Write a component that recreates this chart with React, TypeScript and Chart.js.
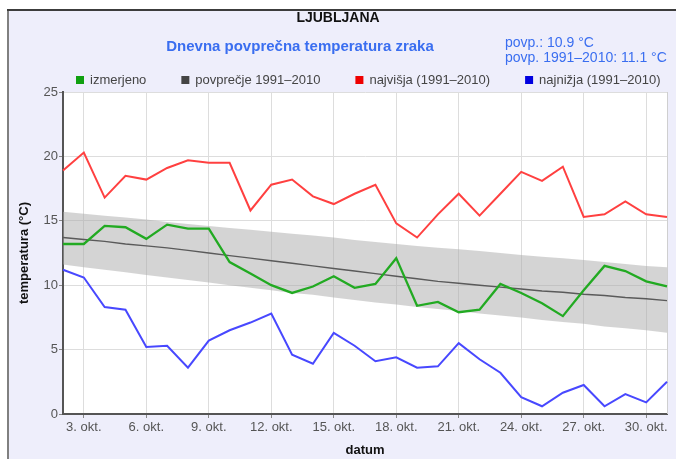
import { useEffect, useRef } from 'react';
import { Chart, registerables } from 'chart.js';

Chart.register(...registerables);

const FONT = '"Liberation Sans", Arial, sans-serif';

const dayNumbers = [2, 3, 4, 5, 6, 7, 8, 9, 10, 11, 12, 13, 14, 15, 16, 17, 18, 19, 20, 21, 22, 23, 24, 25, 26, 27, 28, 29, 30, 31];
const categories = dayNumbers.map((d) => `${d}. okt.`);
const labeledDays = [3, 6, 9, 12, 15, 18, 21, 24, 27, 30];

const measured = [13.2, 13.2, 14.6, 14.5, 13.6, 14.7, 14.4, 14.4, 11.8, 10.9, 10.0, 9.4, 9.9, 10.7, 9.8, 10.1, 12.1, 8.4, 8.7, 7.9, 8.1, 10.1, 9.4, 8.6, 7.6, 9.6, 11.5, 11.1, 10.3, 9.9];
const average = [13.7, 13.55, 13.4, 13.2, 13.05, 12.9, 12.7, 12.5, 12.3, 12.1, 11.9, 11.7, 11.5, 11.3, 11.1, 10.9, 10.7, 10.5, 10.3, 10.15, 10.0, 9.85, 9.7, 9.55, 9.45, 9.3, 9.2, 9.05, 8.95, 8.8];
const highest = [18.9, 20.3, 16.8, 18.5, 18.2, 19.1, 19.7, 19.5, 19.5, 15.8, 17.8, 18.2, 16.9, 16.3, 17.1, 17.8, 14.8, 13.7, 15.5, 17.1, 15.4, 17.1, 18.8, 18.1, 19.2, 15.3, 15.5, 16.5, 15.5, 15.3];
const lowest = [11.2, 10.6, 8.3, 8.1, 5.2, 5.3, 3.6, 5.7, 6.5, 7.1, 7.8, 4.6, 3.9, 6.3, 5.3, 4.1, 4.4, 3.6, 3.7, 5.5, 4.25, 3.2, 1.3, 0.6, 1.65, 2.25, 0.6, 1.55, 0.9, 2.5];
const bandUpper = [15.7, 15.55, 15.4, 15.25, 15.1, 14.9, 14.75, 14.6, 14.45, 14.3, 14.15, 14.0, 13.85, 13.7, 13.5, 13.35, 13.2, 13.05, 12.9, 12.8, 12.65, 12.5, 12.35, 12.2, 12.1, 11.95, 11.8, 11.65, 11.5, 11.4];
const bandLower = [11.6, 11.4, 11.2, 11.0, 10.8, 10.6, 10.4, 10.2, 10.0, 9.8, 9.6, 9.4, 9.25, 9.05, 8.85, 8.65, 8.5, 8.3, 8.15, 8.0, 7.8, 7.65, 7.5, 7.3, 7.15, 7.0, 6.8, 6.65, 6.5, 6.3];

const yTicks = [0, 5, 10, 15, 20, 25];

const titleText = 'LJUBLJANA';
const subtitleText = 'Dnevna povprečna temperatura zraka';
const statLines = ['povp.: 10.9 °C', 'povp. 1991–2010: 11.1 °C'];

const isLabeled = (index: number) => labeledDays.includes(dayNumbers[index]);

const framePlugin = {
  id: 'frameAndTexts',
  beforeDraw(chart: any) {
    const { ctx, chartArea: a, width, height } = chart;
    ctx.save();
    ctx.fillStyle = '#ffffff';
    ctx.fillRect(0, 0, width, height);
    ctx.fillStyle = '#eeeefb';
    ctx.fillRect(8, 10, width - 8, height - 10);
    ctx.lineWidth = 2;
    ctx.strokeStyle = '#808080';
    ctx.beginPath();
    ctx.moveTo(8, 10);
    ctx.lineTo(8, height);
    ctx.stroke();
    ctx.strokeStyle = '#3c3c3c';
    ctx.beginPath();
    ctx.moveTo(7, 10);
    ctx.lineTo(width, 10);
    ctx.stroke();
    ctx.fillStyle = '#ffffff';
    ctx.fillRect(a.left, a.top, a.right - a.left, a.bottom - a.top);
    ctx.restore();
  },
  beforeDatasetsDraw(chart: any) {
    const { ctx, chartArea: a } = chart;
    ctx.save();
    ctx.strokeStyle = '#cfcfcf';
    ctx.lineWidth = 1;
    ctx.beginPath();
    ctx.moveTo(a.right + 0.5, a.top);
    ctx.lineTo(a.right + 0.5, a.bottom);
    ctx.stroke();
    ctx.restore();
  },
  afterDraw(chart: any) {
    const { ctx } = chart;
    ctx.save();
    ctx.textBaseline = 'middle';
    ctx.textAlign = 'center';
    ctx.fillStyle = '#111111';
    ctx.font = `bold 14px ${FONT}`;
    ctx.fillText(titleText, 338, 18);
    ctx.fillStyle = '#3a6ef0';
    ctx.font = `bold 15px ${FONT}`;
    ctx.fillText(subtitleText, 300, 47);
    ctx.textAlign = 'left';
    ctx.font = `14px ${FONT}`;
    ctx.fillText(statLines[0], 505, 43);
    ctx.fillText(statLines[1], 505, 58);

    // legend
    ctx.font = `13px ${FONT}`;
    let x = 76;
    const y = 80;
    chart.data.datasets.forEach((ds: any) => {
      if (!ds.legendColor) return;
      ctx.fillStyle = ds.legendColor;
      ctx.fillRect(x, y - 4, 8, 8);
      ctx.fillStyle = '#444444';
      ctx.fillText(ds.label, x + 14, y);
      x += 14 + ctx.measureText(ds.label).width + 35;
    });
    ctx.restore();
  },
};

export default function App() {
  const ref = useRef<HTMLCanvasElement | null>(null);

  useEffect(() => {
    document.body.style.margin = '0';
    const canvas = ref.current;
    if (!canvas) return;
    const chart = new Chart(canvas, {
      type: 'line',
      data: {
        labels: categories,
        datasets: [
          {
            label: 'band upper',
            data: bandUpper,
            borderWidth: 0,
            borderColor: 'rgba(0,0,0,0)',
            backgroundColor: 'rgba(170,170,170,0.5)',
            pointRadius: 0,
            fill: '+1',
            order: 10,
          },
          {
            label: 'band lower',
            data: bandLower,
            borderWidth: 0,
            borderColor: 'rgba(0,0,0,0)',
            pointRadius: 0,
            fill: false,
            order: 11,
          },
          {
            label: 'izmerjeno',
            data: measured,
            borderColor: '#22aa22',
            borderWidth: 2.3,
            pointRadius: 0,
            fill: false,
            order: 0,
            legendColor: '#10a010',
          } as any,
          {
            label: 'povprečje 1991–2010',
            data: average,
            borderColor: '#5a5a5a',
            borderWidth: 1.4,
            pointRadius: 0,
            fill: false,
            order: 1,
            legendColor: '#444444',
          },
          {
            label: 'najvišja (1991–2010)',
            data: highest,
            borderColor: '#ff4040',
            borderWidth: 2,
            pointRadius: 0,
            fill: false,
            order: 2,
            legendColor: '#ee0000',
          },
          {
            label: 'najnižja (1991–2010)',
            data: lowest,
            borderColor: '#4848ff',
            borderWidth: 2,
            pointRadius: 0,
            fill: false,
            order: 3,
            legendColor: '#0000e0',
          },
        ],
      },
      options: {
        responsive: false,
        animation: false,
        devicePixelRatio: 1,
        layout: { padding: { top: 92, right: 9, left: 0, bottom: 0 } },
        elements: { line: { tension: 0 } },
        plugins: {
          legend: { display: false },
          title: { display: false },
          tooltip: { enabled: false },
        },
        scales: {
          x: {
            type: 'category',
            offset: false,
            afterFit(scale: any) {
              scale.height = 45;
            },
            border: { color: '#555555', width: 2 },
            grid: {
              color: (c: any) => (isLabeled(c.index) ? '#dddddd' : 'rgba(0,0,0,0)'),
              tickColor: (c: any) => (isLabeled(c.index) ? '#888888' : 'rgba(0,0,0,0)'),
              tickLength: 4,
            },
            ticks: {
              autoSkip: false,
              maxRotation: 0,
              padding: 2,
              color: '#555555',
              font: { family: FONT, size: 13 },
              callback: (_v: any, i: number) => (isLabeled(i) ? categories[i] : ''),
            },
            title: {
              display: true,
              text: 'datum',
              color: '#111111',
              font: { family: FONT, size: 13, weight: 'bold' },
              padding: { top: 0, bottom: 1 },
            },
          },
          y: {
            min: yTicks[0],
            max: yTicks[yTicks.length - 1],
            afterFit(scale: any) {
              scale.width = 63;
            },
            afterBuildTicks(scale: any) {
              scale.ticks = yTicks.map((v) => ({ value: v }));
            },
            border: { color: '#555555', width: 2 },
            grid: {
              color: '#dddddd',
              tickColor: '#888888',
              tickLength: 4,
            },
            ticks: {
              padding: 1,
              color: '#555555',
              font: { family: FONT, size: 13 },
            },
            title: {
              display: true,
              text: 'temperatura (°C)',
              color: '#111111',
              font: { family: FONT, size: 13, weight: 'bold' },
              padding: { top: 17, bottom: 0 },
            },
          },
        },
      },
      plugins: [framePlugin],
    } as any);
    return () => chart.destroy();
  }, []);

  return (
    <div style={{ width: 676, height: 459 }}>
      <canvas ref={ref} width={676} height={459} style={{ display: 'block' }} />
    </div>
  );
}
